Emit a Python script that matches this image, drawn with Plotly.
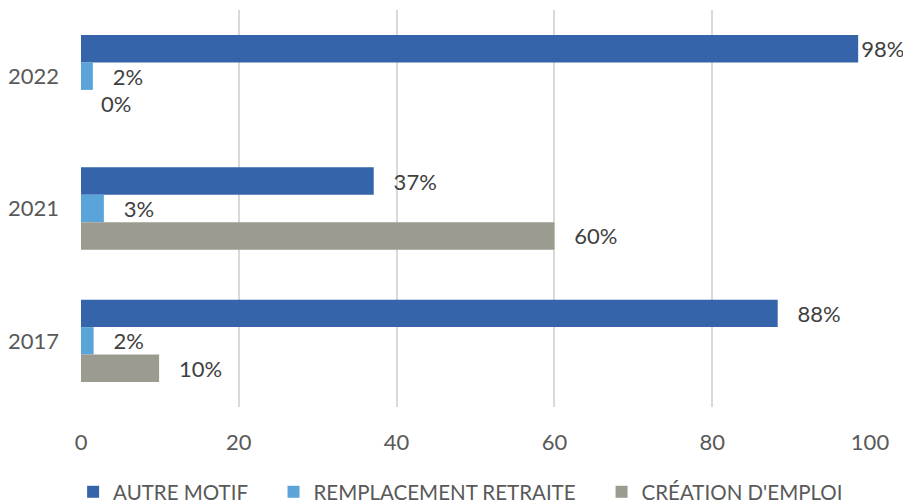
import plotly.graph_objects as go

years = ["2022", "2021", "2017"]
autre_motif = [98.5, 37.1, 88.3]
remplacement_retraite = [1.5, 2.9, 1.6]
creation_emploi = [0, 60, 9.9]
labels_autre = ["98%", "37%", "88%"]
labels_retraite = ["2%", "3%", "2%"]
labels_creation = ["0%", "60%", "10%"]

series = [
    ("AUTRE MOTIF", autre_motif, labels_autre, "#3564AA"),
    ("REMPLACEMENT RETRAITE", remplacement_retraite, labels_retraite, "#5BA4DA"),
    ("CRÉATION D'EMPLOI", creation_emploi, labels_creation, "#9B9C8F"),
]

FONT = "Lato"
NB = "\u00a0"

fig = go.Figure()
for i, (name, vals, labs, color) in enumerate(series):
    # label near the right edge sits closer to its bar (as in the source)
    texts = (("" if v > 95 else NB * 3) + t for v, t in zip(vals, labs))
    # extra spacing between legend entries
    legend_name = name + (NB * 4 if i < len(series) - 1 else "")
    fig.add_trace(go.Bar(
        y=years,
        x=vals,
        name=legend_name,
        orientation="h",
        marker=dict(color=color, line=dict(width=0)),
        text=list(texts),
        textposition="outside",
        constraintext="none",
        textfont=dict(family=FONT, size=22, color="#404040"),
        cliponaxis=False,
    ))

# the page adds an 8px body margin, so margins are shifted to compensate
fig.update_layout(
    barmode="group",
    bargap=0.378,
    bargroupgap=0,
    width=911,
    height=500,
    margin=dict(l=73, r=49, t=2, b=101, autoexpand=False),
    plot_bgcolor="white",
    paper_bgcolor="white",
    font=dict(family=FONT, size=22, color="#595959"),
    xaxis=dict(
        range=[0, 100],
        tickvals=[0, 20, 40, 60, 80, 100],
        showgrid=True,
        gridcolor="#D9D9D9",
        gridwidth=1.5,
        zeroline=False,
        automargin=False,
        ticklabelstandoff=20,
        tickfont=dict(family=FONT, size=22, color="#595959"),
    ),
    yaxis=dict(
        categoryorder="array",
        categoryarray=years,
        autorange="reversed",
        showgrid=False,
        automargin=False,
        ticklabelstandoff=21,
        tickfont=dict(family=FONT, size=22, color="#595959"),
    ),
    legend=dict(
        orientation="h",
        x=-0.010,
        xanchor="left",
        y=-0.214,
        yanchor="middle",
        font=dict(family=FONT, size=20.5, color="#595959"),
        itemwidth=30,
    ),
)

fig.write_html("out.html")
